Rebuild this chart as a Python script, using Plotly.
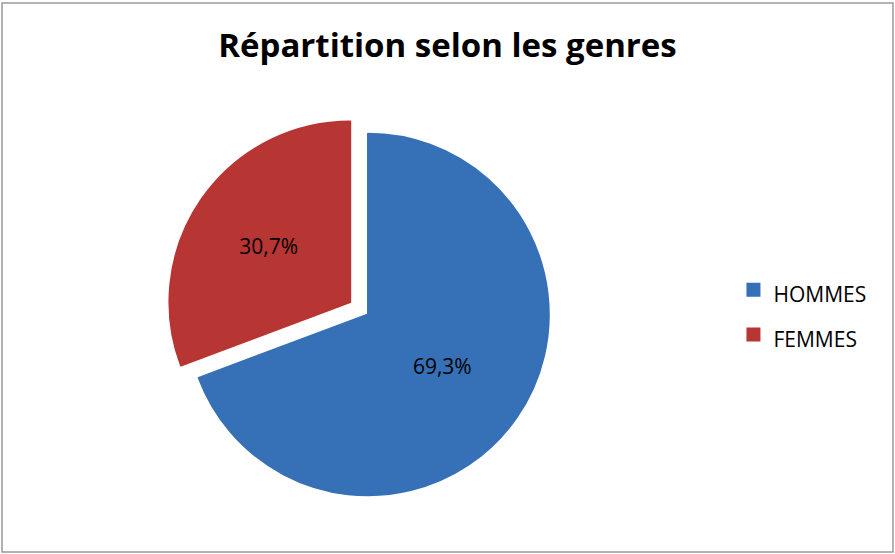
import plotly.graph_objects as go

# Répartition selon les genres
genres = ["HOMMES", "FEMMES"]
parts = [69.3, 30.7]
couleurs = ["#3670b6", "#b73532"]
decalage = [0, 0.12]

# police du legend plus grande que le texte pour espacer les entrées
legend_labels = [f"<span style='font-size:21px'>{g}</span>" for g in genres]

fig = go.Figure(
    go.Pie(
        labels=legend_labels,
        values=parts,
        sort=False,
        direction="clockwise",
        rotation=0,
        pull=decalage,
        marker=dict(colors=couleurs, line=dict(color=couleurs, width=2)),
        textposition="inside",
        texttemplate="%{percent:.1%}",
        insidetextorientation="horizontal",
        textfont=dict(family="Open Sans", size=21, color="black"),
        domain=dict(x=[0.185, 0.6374], y=[0.0668, 0.7978]),
        hoverinfo="label+percent",
    )
)

fig.update_layout(
    width=895,
    height=554,
    margin=dict(l=0, r=0, t=0, b=0),
    paper_bgcolor="white",
    separators=", ",
    title=dict(
        text="<b>Répartition selon les genres</b>",
        x=0.5,
        xanchor="center",
        y=1 - 45 / 554,
        yanchor="middle",
        yref="container",
        font=dict(family="Open Sans", size=33, color="black"),
    ),
    legend=dict(
        x=0.8195,
        xanchor="left",
        y=1 - 312.5 / 554,
        yanchor="middle",
        font=dict(family="Open Sans", size=32, color="black"),
        bgcolor="rgba(0,0,0,0)",
    ),
    shapes=[
        dict(
            type="rect",
            xref="paper",
            yref="paper",
            x0=2 / 895,
            x1=893 / 895,
            y0=1 - 552 / 554,
            y1=1 - 3 / 554,
            line=dict(color="#999999", width=1.5),
        )
    ],
)

# la page a une marge de 8px par défaut
fig.write_html(
    "out.html",
    config={"displayModeBar": False},
    post_script="document.body.style.margin='0';",
)
